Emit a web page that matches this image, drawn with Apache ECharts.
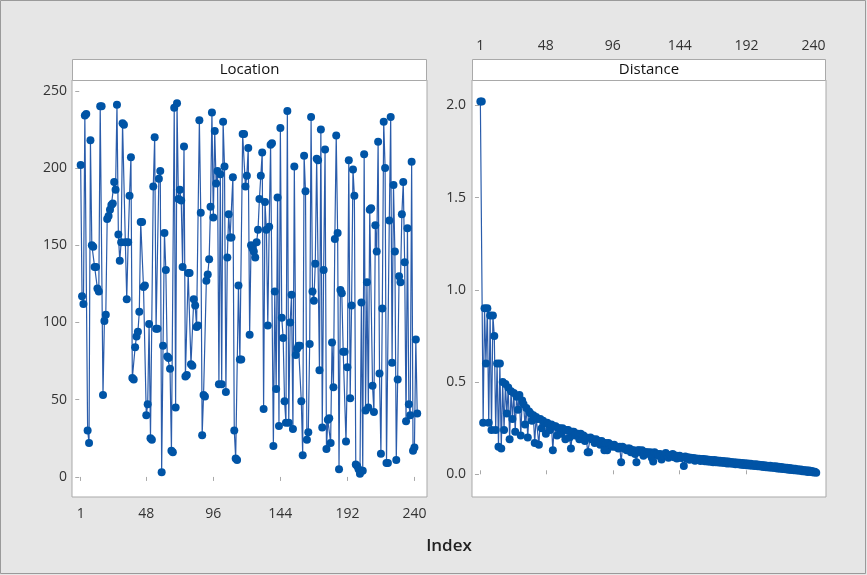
<!DOCTYPE html>
<html lang="en">
<head>
    <meta charset="utf-8">
    <title>Index plot</title>
    <script src="https://cdn.jsdelivr.net/npm/echarts@6/dist/echarts.min.js"></script>
    <style>
        html, body { margin: 0; padding: 0; background: #e6e6e6; }
        #chart { width: 867px; height: 575px; }
    </style>
</head>
<body>
<div id="chart"></div>
<script type="text/javascript">
    // x tick labels shared by both panels
    const indexTicks = [1, 48, 96, 144, 192, 240];
    const locationTicks = [0, 50, 100, 150, 200, 250];
    const distanceTicks = [0, 0.5, 1.0, 1.5, 2.0];

    const locationValues = [
        202, 117, 112, 234, 235, 30, 22, 218, 150, 149,
        136, 136, 122, 120, 240, 240, 53, 101, 105, 167,
        169, 173, 176, 177, 191, 186, 241, 157, 140, 152,
        229, 228, 152, 115, 152, 182, 207, 64, 63, 84,
        91, 94, 107, 165, 165, 123, 124, 40, 47, 99,
        25, 24, 188, 220, 96, 96, 193, 198, 3, 85,
        158, 134, 78, 77, 70, 17, 16, 239, 45, 242,
        180, 186, 179, 136, 214, 65, 66, 132, 132, 73,
        72, 115, 111, 97, 98, 231, 171, 27, 53, 52,
        127, 131, 141, 175, 236, 168, 224, 190, 198, 60,
        196, 60, 230, 201, 55, 142, 170, 155, 155, 194,
        30, 12, 11, 124, 76, 76, 222, 222, 188, 195,
        213, 92, 150, 148, 146, 142, 152, 160, 180, 195,
        210, 44, 178, 160, 98, 162, 215, 216, 20, 120,
        57, 181, 33, 226, 103, 90, 49, 35, 237, 35,
        100, 118, 31, 201, 79, 83, 85, 85, 49, 14,
        208, 185, 24, 29, 86, 233, 120, 114, 138, 206,
        205, 69, 225, 32, 134, 212, 18, 37, 38, 22,
        87, 58, 154, 221, 158, 5, 121, 119, 81, 81,
        23, 71, 205, 51, 111, 199, 182, 8, 7, 5,
        2, 113, 4, 209, 43, 126, 45, 173, 174, 59,
        42, 163, 146, 217, 67, 15, 109, 230, 200, 9,
        9, 166, 233, 74, 189, 146, 11, 63, 130, 126,
        170, 191, 139, 36, 161, 47, 40, 204, 17, 19,
        89, 41
    ];

    const distanceValues = [
        2.02, 2.02, 0.28, 0.90, 0.60, 0.90, 0.28, 0.86, 0.24, 0.86,
        0.75, 0.24, 0.60, 0.15, 0.60, 0.14, 0.50, 0.24, 0.49, 0.33,
        0.47, 0.19, 0.45, 0.30, 0.44, 0.23, 0.42, 0.35, 0.43, 0.21,
        0.40, 0.38, 0.27, 0.36, 0.20, 0.34, 0.33, 0.29, 0.32, 0.17,
        0.31, 0.30, 0.16, 0.30, 0.25, 0.29, 0.28, 0.22, 0.28, 0.27,
        0.24, 0.27, 0.13, 0.26, 0.26, 0.21, 0.25, 0.25, 0.22, 0.25,
        0.24, 0.19, 0.24, 0.24, 0.20, 0.14, 0.23, 0.23, 0.21, 0.22,
        0.22, 0.19, 0.22, 0.21, 0.21, 0.18, 0.20, 0.12, 0.12, 0.20,
        0.19, 0.19, 0.17, 0.19, 0.18, 0.18, 0.16, 0.18, 0.17, 0.13,
        0.17, 0.13, 0.17, 0.16, 0.16, 0.15, 0.16, 0.15, 0.15, 0.14,
        0.15, 0.065, 0.15, 0.14, 0.14, 0.13, 0.14, 0.14, 0.12, 0.13,
        0.13, 0.11, 0.065, 0.13, 0.13, 0.12, 0.13, 0.10, 0.12, 0.12,
        0.12, 0.11, 0.12, 0.09, 0.07, 0.12, 0.11, 0.11, 0.10, 0.11,
        0.08, 0.10, 0.10, 0.115, 0.10, 0.09, 0.105, 0.10, 0.11, 0.092,
        0.102, 0.085, 0.096, 0.101, 0.088, 0.094, 0.045, 0.097, 0.084, 0.093,
        0.079, 0.09, 0.082, 0.088, 0.074, 0.086, 0.077, 0.084, 0.072, 0.083,
        0.083, 0.071, 0.081, 0.069, 0.079, 0.068, 0.078, 0.066, 0.077, 0.066,
        0.075, 0.064, 0.073, 0.062, 0.072, 0.061, 0.071, 0.059, 0.069, 0.058,
        0.067, 0.057, 0.066, 0.055, 0.064, 0.054, 0.063, 0.052, 0.061, 0.051,
        0.06, 0.049, 0.058, 0.048, 0.057, 0.046, 0.055, 0.045, 0.054, 0.043,
        0.052, 0.042, 0.051, 0.040, 0.049, 0.038, 0.047, 0.037, 0.046, 0.035,
        0.044, 0.034, 0.043, 0.032, 0.041, 0.030, 0.039, 0.029, 0.037, 0.027,
        0.036, 0.025, 0.034, 0.024, 0.032, 0.022, 0.030, 0.020, 0.028, 0.019,
        0.026, 0.017, 0.024, 0.015, 0.022, 0.013, 0.020, 0.012, 0.018, 0.010,
        0.014, 0.009
    ];

    const blue = '#0054a6';
    const frameColor = '#a9a9a9';
    const textColor = '#333333';
    const fontFamily = '"Open Sans", "Noto Sans", sans-serif';

    const chart = echarts.init(document.getElementById('chart'));

    function lineSeries(values, axisIndex) {
        return {
            type: 'line',
            xAxisIndex: axisIndex,
            yAxisIndex: axisIndex,
            data: values.map(function (v, i) { return [i + 1, v]; }),
            symbol: 'circle',
            symbolSize: 8,
            showAllSymbol: true,
            itemStyle: {color: blue},
            lineStyle: {color: '#2a5cab', width: 1.2},
            animation: false
        };
    }

    function tickStyle(values) {
        return {show: true, customValues: values, length: 4, lineStyle: {color: frameColor}};
    }

    const option = {
        backgroundColor: '#e6e6e6',
        animation: false,
        grid: [
            {left: 72, top: 80, width: 355, height: 417, show: true,
                backgroundColor: '#ffffff', borderColor: frameColor, borderWidth: 1},
            {left: 472, top: 80, width: 354, height: 417, show: true,
                backgroundColor: '#ffffff', borderColor: frameColor, borderWidth: 1}
        ],
        xAxis: [
            {
                gridIndex: 0, type: 'value', min: -5.2, max: 249,
                position: 'bottom',
                axisLine: {show: false},
                axisTick: tickStyle(indexTicks),
                splitLine: {show: false},
                axisLabel: {customValues: indexTicks, color: textColor,
                    fontFamily: fontFamily, fontSize: 14, margin: 10}
            },
            {
                gridIndex: 1, type: 'value', min: -5.0, max: 249,
                position: 'top', offset: 21,
                axisLine: {show: false},
                axisTick: tickStyle(indexTicks),
                splitLine: {show: false},
                axisLabel: {customValues: indexTicks, color: textColor,
                    fontFamily: fontFamily, fontSize: 14, margin: 6}
            }
        ],
        yAxis: [
            {
                gridIndex: 0, type: 'value', min: -13, max: 257,
                axisLine: {show: false},
                axisTick: tickStyle(locationTicks),
                splitLine: {show: false},
                axisLabel: {customValues: locationTicks, color: textColor,
                    fontFamily: fontFamily, fontSize: 14, margin: 5}
            },
            {
                gridIndex: 1, type: 'value', min: -0.123, max: 2.137,
                axisLine: {show: false},
                axisTick: tickStyle(distanceTicks),
                splitLine: {show: false},
                axisLabel: {customValues: distanceTicks, color: textColor,
                    fontFamily: fontFamily, fontSize: 14, margin: 6,
                    formatter: function (v) { return v.toFixed(1); }}
            }
        ],
        graphic: [
            {type: 'rect', shape: {x: 0.5, y: 0.5, width: 865, height: 573},
                style: {fill: null, stroke: '#9a9a9a', lineWidth: 1}, silent: true},
            {type: 'rect', shape: {x: 72.5, y: 59.5, width: 354, height: 21},
                style: {fill: '#ffffff', stroke: frameColor, lineWidth: 1}},
            {type: 'text', x: 249.5, y: 70, style: {text: 'Location', fill: '#111111',
                    font: '500 15px ' + fontFamily, align: 'center', verticalAlign: 'middle'}},
            {type: 'rect', shape: {x: 472.5, y: 59.5, width: 353, height: 21},
                style: {fill: '#ffffff', stroke: frameColor, lineWidth: 1}},
            {type: 'text', x: 649, y: 70, style: {text: 'Distance', fill: '#111111',
                    font: '500 15px ' + fontFamily, align: 'center', verticalAlign: 'middle'}},
            {type: 'text', x: 449, y: 546, style: {text: 'Index', fill: '#222222',
                    font: '600 17px ' + fontFamily, align: 'center', verticalAlign: 'middle'}}
        ],
        series: [
            lineSeries(locationValues, 0),
            lineSeries(distanceValues, 1)
        ]
    };
    chart.setOption(option);
</script>
</body>
</html>
